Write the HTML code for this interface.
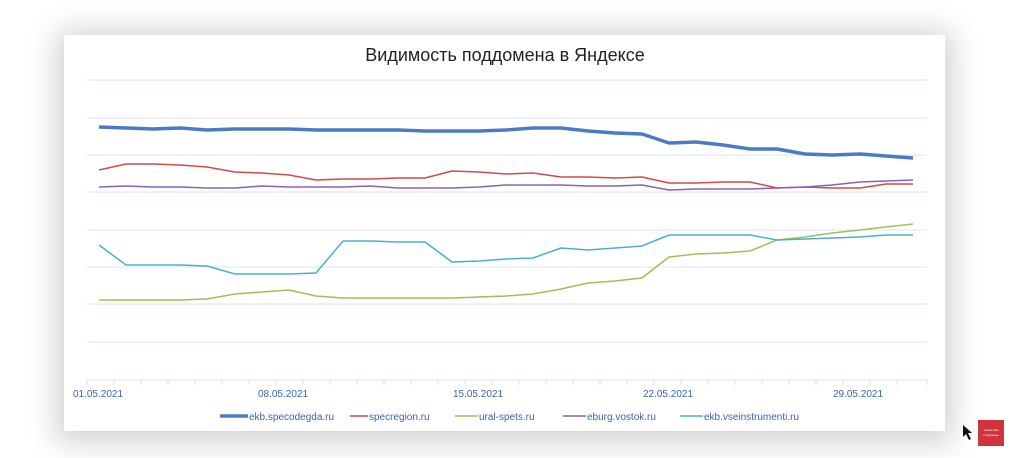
<!DOCTYPE html>
<html><head><meta charset="utf-8"><style>
html,body{margin:0;padding:0;background:#fff;}
body{width:1024px;height:458px;position:relative;overflow:hidden;font-family:"Liberation Sans",sans-serif;}
.card{position:absolute;left:64px;top:35px;width:881px;height:396px;background:#fff;box-shadow:0 4px 28px 8px rgba(0,0,0,0.18);}
</style></head><body>
<div class="card"></div>
<svg width="1024" height="458" style="position:absolute;left:0;top:0" font-family="Liberation Sans, DejaVu Sans, sans-serif">
<text x="505" y="61" font-size="18" text-anchor="middle" fill="#222">Видимость поддомена в Яндексе</text>
<g stroke="#dbe6f5" stroke-width="1">
<line x1="87" y1="80" x2="927" y2="80"/><line x1="87" y1="118" x2="927" y2="118"/><line x1="87" y1="155" x2="927" y2="155"/><line x1="87" y1="192" x2="927" y2="192"/><line x1="87" y1="230" x2="927" y2="230"/><line x1="87" y1="267" x2="927" y2="267"/><line x1="87" y1="304" x2="927" y2="304"/><line x1="87" y1="342" x2="927" y2="342"/><line x1="87" y1="380" x2="927" y2="380"/>
</g>
<g stroke="#d6e2f2" stroke-width="1" id="ticks"></g>
<g fill="none" stroke-linejoin="round">
<polyline stroke="#4a7cc4" stroke-width="3.5" points="99,127 126,128 153,129 180,128 207,130 235,129 262,129 289,129 316,130 343,130 370,130 398,130 425,131 452,131 479,131 506,130 533,128 561,128 588,131 615,133 642,134 669,143 696,142 723,145 750,149 777,149 805,154 832,155 860,154 886,156 913,158"/>
<polyline stroke="#d24a48" stroke-width="1.5" points="99,170 126,164 153,164 180,165 207,167 235,172 262,173 289,175 316,180 343,179 370,179 398,178 425,178 452,171 479,172 506,174 533,173 561,177 588,177 615,178 642,177 669,183 696,183 723,182 750,182 777,188 805,187 832,188 860,188 886,184 913,184"/>
<polyline stroke="#8a63b0" stroke-width="1.5" points="99,187 126,186 153,187 180,187 207,188 235,188 262,186 289,187 316,187 343,187 370,186 398,188 425,188 452,188 479,187 506,185 533,185 561,185 588,186 615,186 642,185 669,190 696,189 723,189 750,189 777,188 805,187 832,185 860,182 886,181 913,180"/>
<polyline stroke="#9cc255" stroke-width="1.5" points="99,300 126,300 153,300 180,300 207,299 235,294 262,292 289,290 316,296 343,298 370,298 398,298 425,298 452,298 479,297 506,296 533,294 561,289 588,283 615,281 642,278 669,257 696,254 723,253 750,251 777,240 805,237 832,233 860,230 886,227 913,224"/>
<polyline stroke="#4bb0cc" stroke-width="1.5" points="99,245 126,265 153,265 180,265 207,266 235,274 262,274 289,274 316,273 343,241 370,241 398,242 425,242 452,262 479,261 506,259 533,258 561,248 588,250 615,248 642,246 669,235 696,235 723,235 750,235 777,240 805,239 832,238 860,237 886,235 913,235"/>
</g>
<g stroke="#d6e2f2" stroke-width="1">
<line x1="87" y1="380" x2="87" y2="385"/><line x1="114" y1="380" x2="114" y2="385"/><line x1="141" y1="380" x2="141" y2="385"/><line x1="168" y1="380" x2="168" y2="385"/><line x1="195" y1="380" x2="195" y2="385"/><line x1="222" y1="380" x2="222" y2="385"/><line x1="249" y1="380" x2="249" y2="385"/><line x1="276" y1="380" x2="276" y2="385"/><line x1="303" y1="380" x2="303" y2="385"/><line x1="330" y1="380" x2="330" y2="385"/><line x1="357" y1="380" x2="357" y2="385"/><line x1="384" y1="380" x2="384" y2="385"/><line x1="411" y1="380" x2="411" y2="385"/><line x1="438" y1="380" x2="438" y2="385"/><line x1="465" y1="380" x2="465" y2="385"/><line x1="492" y1="380" x2="492" y2="385"/><line x1="519" y1="380" x2="519" y2="385"/><line x1="546" y1="380" x2="546" y2="385"/><line x1="573" y1="380" x2="573" y2="385"/><line x1="600" y1="380" x2="600" y2="385"/><line x1="627" y1="380" x2="627" y2="385"/><line x1="654" y1="380" x2="654" y2="385"/><line x1="681" y1="380" x2="681" y2="385"/><line x1="708" y1="380" x2="708" y2="385"/><line x1="735" y1="380" x2="735" y2="385"/><line x1="762" y1="380" x2="762" y2="385"/><line x1="789" y1="380" x2="789" y2="385"/><line x1="816" y1="380" x2="816" y2="385"/><line x1="843" y1="380" x2="843" y2="385"/><line x1="870" y1="380" x2="870" y2="385"/><line x1="897" y1="380" x2="897" y2="385"/><line x1="927" y1="380" x2="927" y2="385"/>
</g>
<g font-size="10" fill="#3a64a8" text-anchor="middle">
<text x="98" y="397">01.05.2021</text><text x="283" y="397">08.05.2021</text><text x="478" y="397">15.05.2021</text><text x="668" y="397">22.05.2021</text><text x="858" y="397">29.05.2021</text>
</g>
<g font-size="10" fill="#3a64a8">
<line x1="220" y1="416" x2="248" y2="416" stroke="#4a7cc4" stroke-width="3.5"/><text x="249" y="420">ekb.specodegda.ru</text>
<line x1="350" y1="416" x2="368" y2="416" stroke="#d24a48" stroke-width="1.5"/><text x="369" y="420">specregion.ru</text>
<line x1="455" y1="416" x2="478" y2="416" stroke="#9cc255" stroke-width="1.5"/><text x="479" y="420">ural-spets.ru</text>
<line x1="563" y1="416" x2="586" y2="416" stroke="#8a63b0" stroke-width="1.5"/><text x="587" y="420">eburg.vostok.ru</text>
<line x1="680" y1="416" x2="703" y2="416" stroke="#4bb0cc" stroke-width="1.5"/><text x="704" y="420">ekb.vseinstrumenti.ru</text>
</g>
<path d="M963,425 L963,437 L966,434 L969,440 L971,439 L968,433 L972,433 Z" fill="#111"/>
<rect x="978" y="420" width="26" height="26" fill="#d0343a"/>
<text x="991" y="431" font-size="3" fill="#fff" text-anchor="middle">Аналитика</text>
<text x="991" y="436" font-size="3" fill="#fff" text-anchor="middle">и партнеры</text>
</svg>
</body></html>
